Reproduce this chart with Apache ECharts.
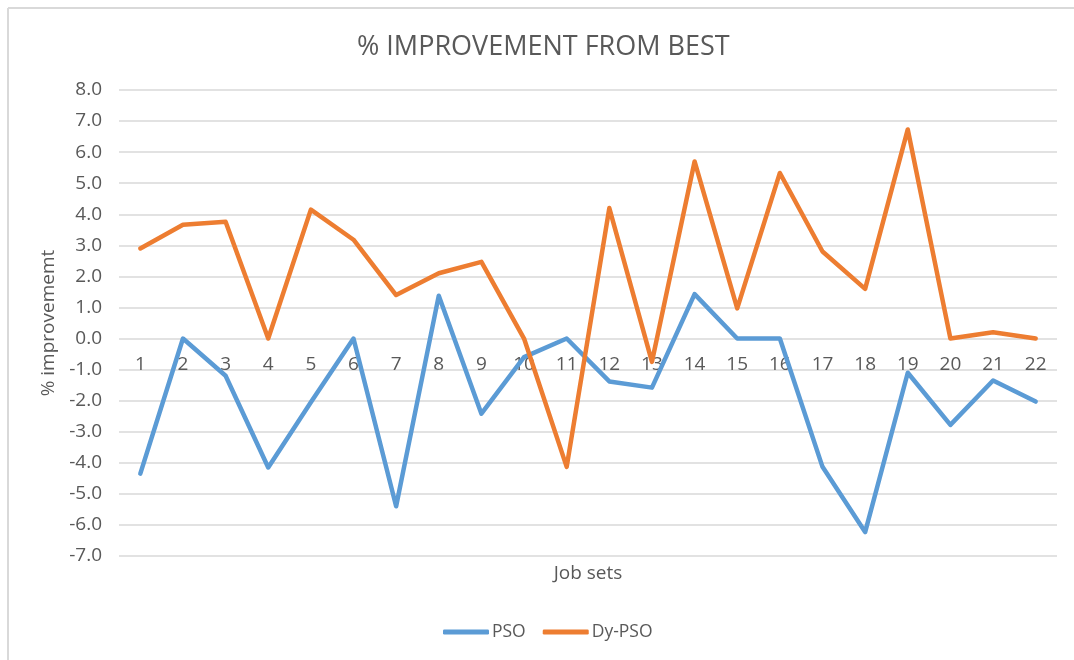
<!DOCTYPE html>
<html>
<head>
<meta charset="utf-8">
<script src="https://cdn.jsdelivr.net/npm/echarts@6/dist/echarts.min.js"></script>
<style>html,body{margin:0;padding:0;background:#fff;}#c{width:1074px;height:660px;}</style>
</head>
<body>
<div id="c"></div>
<script>
const categories = ['1','2','3','4','5','6','7','8','9','10','11','12','13','14','15','16','17','18','19','20','21','22'];
const psoValues = [-4.35, 0.0, -1.2, -4.15, -2.05, 0.0, -5.4, 1.38, -2.42, -0.6, 0.0, -1.38, -1.58, 1.43, 0.0, 0.0, -4.13, -6.23, -1.1, -2.78, -1.35, -2.03];
const dyPsoValues = [2.9, 3.66, 3.76, 0.0, 4.15, 3.18, 1.4, 2.1, 2.47, 0.0, -4.13, 4.2, -0.75, 5.7, 0.97, 5.33, 2.8, 1.6, 6.73, 0.0, 0.2, 0.0];
const seriesNames = ['PSO', 'Dy-PSO'];
const yTicks = { min: -7, max: 8, interval: 1 };

const FONT = '"Open Sans", "Liberation Sans", sans-serif';
const GRID = { left: 119, right: 17, top: 90, bottom: 104 };
const plotH = 660 - GRID.top - GRID.bottom;
// distance from bottom of plot to the zero line, derived from the y scale
const zeroOffset = plotH * (0 - yTicks.min) / (yTicks.max - yTicks.min);

const chart = echarts.init(document.getElementById('c'), null, { renderer: 'canvas' });
chart.setOption({
  backgroundColor: '#fff',
  animation: false,
  title: {
    text: '% IMPROVEMENT FROM BEST',
    left: 352, top: 29,
    textStyle: { fontFamily: FONT, fontSize: 27, fontWeight: 'normal', color: '#595959' }
  },
  graphic: [
    { type: 'line', shape: { x1: 8, y1: 8, x2: 1074, y2: 8 }, style: { stroke: '#d9d9d9', lineWidth: 2 } },
    { type: 'line', shape: { x1: 8, y1: 8, x2: 8, y2: 660 }, style: { stroke: '#d9d9d9', lineWidth: 2 } },
    { type: 'text', x: GRID.left + (1074 - GRID.left - GRID.right) / 2, y: 574,
      style: { text: 'Job sets', fill: '#595959', font: '19px ' + FONT, textAlign: 'center', textVerticalAlign: 'middle' } }
  ],
  legend: {
    bottom: 14, left: 438,
    itemWidth: 46, itemHeight: 5, itemGap: 17,
    icon: 'roundRect',
    textStyle: { fontFamily: FONT, fontSize: 17.5, color: '#595959', padding: [0, 0, 0, -2] },
    data: seriesNames
  },
  grid: GRID,
  xAxis: {
    type: 'category',
    data: categories,
    boundaryGap: true,
    offset: -zeroOffset,
    axisLine: { onZero: false, show: false },
    axisTick: { show: false },
    axisLabel: { color: '#595959', fontFamily: FONT, fontSize: 19, margin: 17 }
  },
  yAxis: {
    type: 'value',
    min: yTicks.min, max: yTicks.max, interval: yTicks.interval,
    name: '% improvememt',
    nameLocation: 'middle', nameGap: 60, nameRotate: 90,
    nameTextStyle: { color: '#595959', fontFamily: FONT, fontSize: 19 },
    axisLine: { show: false }, axisTick: { show: false },
    axisLabel: { color: '#595959', fontFamily: FONT, fontSize: 19, margin: 17, formatter: v => v.toFixed(1) },
    splitLine: { lineStyle: { color: '#d9d9d9', width: 1.5 } }
  },
  series: [
    { name: seriesNames[0], type: 'line', data: psoValues, showSymbol: false, symbol: 'none',
      lineStyle: { color: '#5b9bd5', width: 4.5, cap: 'round', join: 'round' }, itemStyle: { color: '#5b9bd5' } },
    { name: seriesNames[1], type: 'line', data: dyPsoValues, showSymbol: false, symbol: 'none',
      lineStyle: { color: '#ed7d31', width: 4.5, cap: 'round', join: 'round' }, itemStyle: { color: '#ed7d31' } }
  ]
});
</script>
</body>
</html>
